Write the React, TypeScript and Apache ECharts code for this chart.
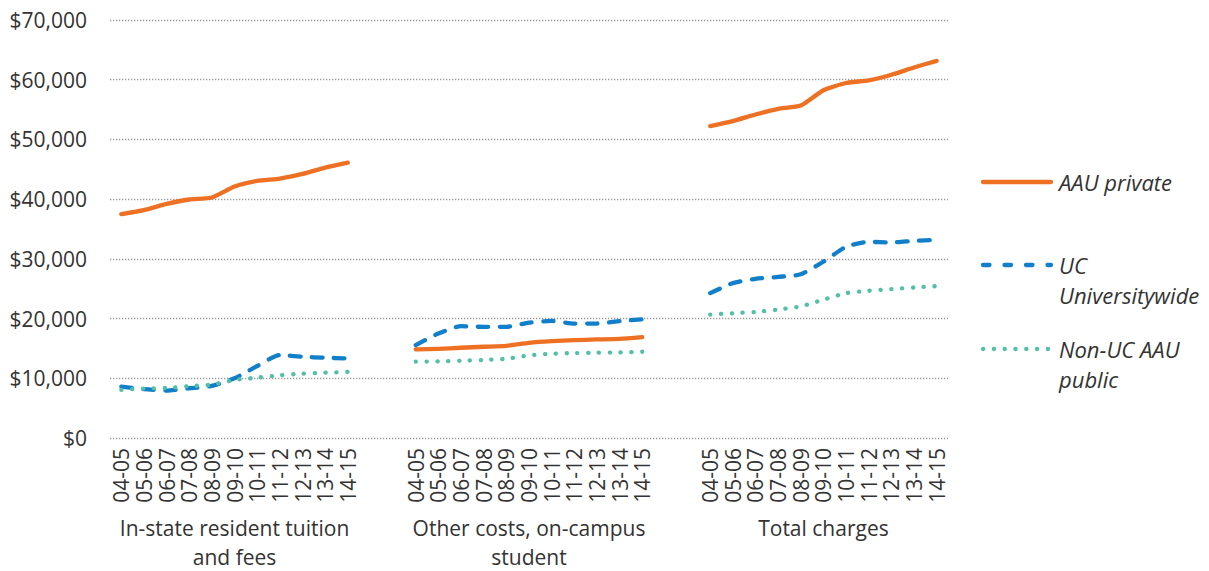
import React, { useEffect, useRef } from "react";
import * as echarts from "echarts";

const years = ["04-05", "05-06", "06-07", "07-08", "08-09", "09-10", "10-11", "11-12", "12-13", "13-14", "14-15"];
const groupNames = ["In-state resident tuition\nand fees", "Other costs, on-campus\nstudent", "Total charges"];
const yTicks = [0, 10000, 20000, 30000, 40000, 50000, 60000, 70000];

const aauPrivateTuition = [37500, 38170, 39200, 39940, 40280, 42100, 43050, 43440, 44220, 45280, 46110];
const aauPrivateOther = [14830, 14940, 15110, 15280, 15440, 15940, 16220, 16390, 16500, 16610, 16890];
const aauPrivateTotal = [52240, 53070, 54180, 55120, 55680, 58230, 59450, 59890, 60830, 62050, 63160];

const ucTuition = [8610, 8170, 7950, 8330, 8720, 10000, 12060, 13890, 13610, 13440, 13330];
const ucOther = [15560, 17500, 18720, 18610, 18610, 19330, 19610, 19170, 19170, 19560, 19890];
const ucTotal = [24270, 25930, 26650, 26980, 27420, 29530, 32020, 32850, 32740, 33020, 33190];

const nonUcTuition = [8060, 8280, 8390, 8670, 8940, 9720, 10110, 10500, 10780, 10940, 11060];
const nonUcOther = [12780, 12830, 12940, 13060, 13280, 13830, 14110, 14220, 14280, 14330, 14440];
const nonUcTotal = [20660, 20890, 21110, 21500, 22050, 23160, 24270, 24650, 24930, 25210, 25430];

const legendNames = ["AAU private", "UC\nUniversitywide", "Non-UC AAU\npublic"];

const GAP = 2;
const FONT = "'Open Sans', 'Noto Sans', sans-serif";

function buildCategories(): string[] {
  const out: string[] = [];
  years.forEach((y) => out.push(y));
  for (let i = 0; i < GAP; i++) out.push(" ".repeat(i + 1));
  years.forEach((y) => out.push(y));
  for (let i = 0; i < GAP; i++) out.push(" ".repeat(i + 3));
  years.forEach((y) => out.push(y));
  return out;
}

function buildGroupLabels(): string[] {
  const out: string[] = [];
  const total = years.length * 3 + GAP * 2;
  for (let i = 0; i < total; i++) out.push("");
  const mid = Math.floor(years.length / 2);
  groupNames.forEach((g, k) => {
    out[k * (years.length + GAP) + mid] = g;
  });
  return out;
}

function joinGroups(a: number[], b: number[], c: number[]): (number | null)[] {
  const gap = new Array(GAP).fill(null);
  return [...a, ...gap, ...b, ...gap, ...c];
}

const ORANGE = "#EE7023";
const BLUE = "#127FCB";
const TEAL = "#52BFA9";
const TEXT = "#333333";

export default function App() {
  const ref = useRef<HTMLDivElement>(null);
  useEffect(() => {
    document.body.style.margin = "0";
    if (!ref.current) return;
    const chart = echarts.init(ref.current, undefined, { renderer: "svg" });
    const cats = buildCategories();
    const groupLabels = buildGroupLabels();
    const lineW = 4.3;
    chart.setOption({
      animation: false,
      backgroundColor: "#ffffff",
      grid: { left: 110, right: 261, top: 20, bottom: 131, containLabel: false },
      xAxis: [
        {
          type: "category",
          data: cats,
          boundaryGap: true,
          axisLine: { show: false },
          axisTick: { show: false },
          axisLabel: {
            interval: 0,
            rotate: 90,
            margin: 10,
            fontFamily: FONT,
            fontSize: 21,
            color: TEXT,
          },
        },
        {
          type: "category",
          data: groupLabels,
          position: "bottom",
          offset: 70,
          boundaryGap: true,
          axisLine: { show: false },
          axisTick: { show: false },
          axisLabel: {
            interval: 0,
            margin: 5,
            fontFamily: FONT,
            fontSize: 21,
            lineHeight: 29,
            color: TEXT,
            verticalAlign: "top",
          },
        },
      ],
      yAxis: {
        type: "value",
        min: yTicks[0],
        max: yTicks[yTicks.length - 1],
        interval: yTicks[1] - yTicks[0],
        axisLine: { show: false },
        axisTick: { show: false },
        axisLabel: {
          margin: 23,
          fontFamily: FONT,
          fontSize: 21,
          color: TEXT,
          formatter: (v: number) => "$" + v.toLocaleString("en-US"),
        },
        splitLine: { lineStyle: { color: "#9a9a9a", width: 1.3, type: [1.3, 1.7] } },
      },
      series: [
        {
          name: "AAU private",
          type: "line",
          xAxisIndex: 0,
          data: joinGroups(aauPrivateTuition, aauPrivateOther, aauPrivateTotal),
          showSymbol: false,
          symbol: "none",
          connectNulls: false,
          smooth: 0.2,
          lineStyle: { color: ORANGE, width: lineW, cap: "round", join: "round" },
        },
        {
          name: "UC Universitywide",
          type: "line",
          xAxisIndex: 0,
          data: joinGroups(ucTuition, ucOther, ucTotal),
          showSymbol: false,
          symbol: "none",
          connectNulls: false,
          smooth: 0.2,
          lineStyle: { color: BLUE, width: lineW, cap: "round", join: "round", type: [10.5, 11.5] },
        },
        {
          name: "Non-UC AAU public",
          type: "line",
          xAxisIndex: 0,
          data: joinGroups(nonUcTuition, nonUcOther, nonUcTotal),
          showSymbol: false,
          symbol: "none",
          connectNulls: false,
          smooth: 0.2,
          lineStyle: { color: TEAL, width: lineW, cap: "round", join: "round", type: [0.2, 10.6] },
        },
      ],
      graphic: [
        { type: "line", shape: { x1: 983, y1: 182, x2: 1051, y2: 182 }, style: { stroke: ORANGE, lineWidth: lineW, lineCap: "round" } },
        { type: "text", left: 1059, top: 182 - 15, style: { text: legendNames[0], font: `italic 22px ${FONT}`, fill: TEXT, lineHeight: 30 } },
        { type: "line", shape: { x1: 983, y1: 265, x2: 1051, y2: 265 }, style: { stroke: BLUE, lineWidth: lineW, lineCap: "round", lineDash: [6.5, 15] } },
        { type: "text", left: 1059, top: 265 - 15, style: { text: legendNames[1], font: `italic 22px ${FONT}`, fill: TEXT, lineHeight: 30 } },
        { type: "line", shape: { x1: 983, y1: 349, x2: 1051, y2: 349 }, style: { stroke: TEAL, lineWidth: lineW, lineCap: "round", lineDash: [0.2, 10.6] } },
        { type: "text", left: 1059, top: 349 - 15, style: { text: legendNames[2], font: `italic 22px ${FONT}`, fill: TEXT, lineHeight: 30 } },
      ],
    });
    return () => chart.dispose();
  }, []);
  return <div ref={ref} style={{ position: "absolute", left: 0, top: 0, width: 1209, height: 571 }} />;
}
